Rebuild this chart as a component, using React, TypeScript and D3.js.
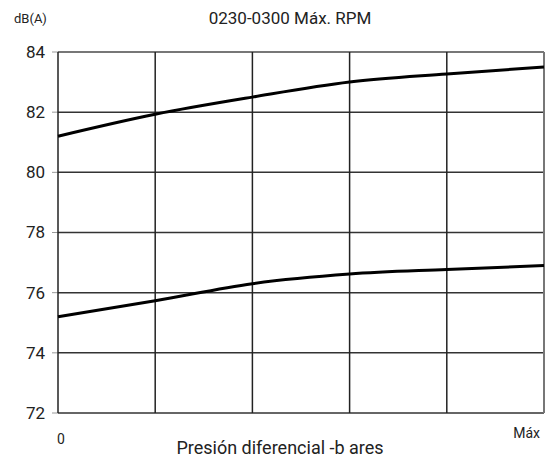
import { curveMonotoneX, line, scaleLinear } from 'd3';

// Sound level vs differential pressure, two operating curves.
const positions = [0, 1, 2, 3, 4, 5];
const upper = [81.2, 81.93, 82.5, 83.0, 83.27, 83.5];
const lower = [75.2, 75.73, 76.3, 76.62, 76.77, 76.9];
const yTicks = [72, 74, 76, 78, 80, 82, 84];
const xTicks = [0, 1, 2, 3, 4, 5];

const FONT = 'Roboto, "DejaVu Sans", sans-serif';

export default function App() {
  const width = 548;
  const height = 460;
  const m = { top: 52, right: 4, bottom: 47, left: 58 };
  const w = width - m.left - m.right;
  const h = height - m.top - m.bottom;
  const xs = scaleLinear().domain([0, 5]).range([0, w]);
  const ys = scaleLinear().domain([72, 84]).range([h, 0]);
  const ln = line<number>().x((_d, i) => xs(positions[i]!)).y((d) => ys(d)).curve(curveMonotoneX);

  return (
    <svg width={width} height={height} viewBox={`0 0 ${width} ${height}`} style={{ position: 'absolute', left: 0, top: 0, background: '#fff', fontFamily: FONT }}>
      <text x={14} y={23} fill="#222" style={{ fontSize: 13 }}>dB(A)</text>
      <text x={290} y={24} textAnchor="middle" fill="#222" style={{ fontSize: 17 }}>0230-0300 Máx. RPM</text>
      <g transform={`translate(${m.left},${m.top})`}>
        {yTicks.map((t) => (
          <g key={t}>
            <line x1={-6} x2={0} y1={ys(t)} y2={ys(t)} stroke="#999" strokeWidth={1} />
            <line x1={0} x2={w} y1={ys(t)} y2={ys(t)} stroke={t === 84 ? '#777' : '#333'} strokeWidth={t === 84 ? 2 : 1.5} />
            <text x={-13} y={ys(t)} dy="0.35em" textAnchor="end" fill="#222" style={{ fontSize: 17 }}>{t}</text>
          </g>
        ))}
        {xTicks.map((t) => (
          <line key={t} x1={xs(t)} x2={xs(t)} y1={0} y2={h} stroke={t === 5 ? '#777' : '#222'} strokeWidth={t === 5 ? 2 : 1.5} />
        ))}
        <path d={ln(upper) ?? undefined} fill="none" stroke="#000" strokeWidth={3} />
        <path d={ln(lower) ?? undefined} fill="none" stroke="#000" strokeWidth={3} />
        <text x={-1} y={h + 31} fill="#222" style={{ fontSize: 14 }}>0</text>
        <text x={w - 4} y={h + 25} textAnchor="end" fill="#222" style={{ fontSize: 14 }}>Máx</text>
        <text x={222} y={h + 41} textAnchor="middle" fill="#222" style={{ fontSize: 18 }}>Presión diferencial -b ares</text>
      </g>
    </svg>
  );
}
